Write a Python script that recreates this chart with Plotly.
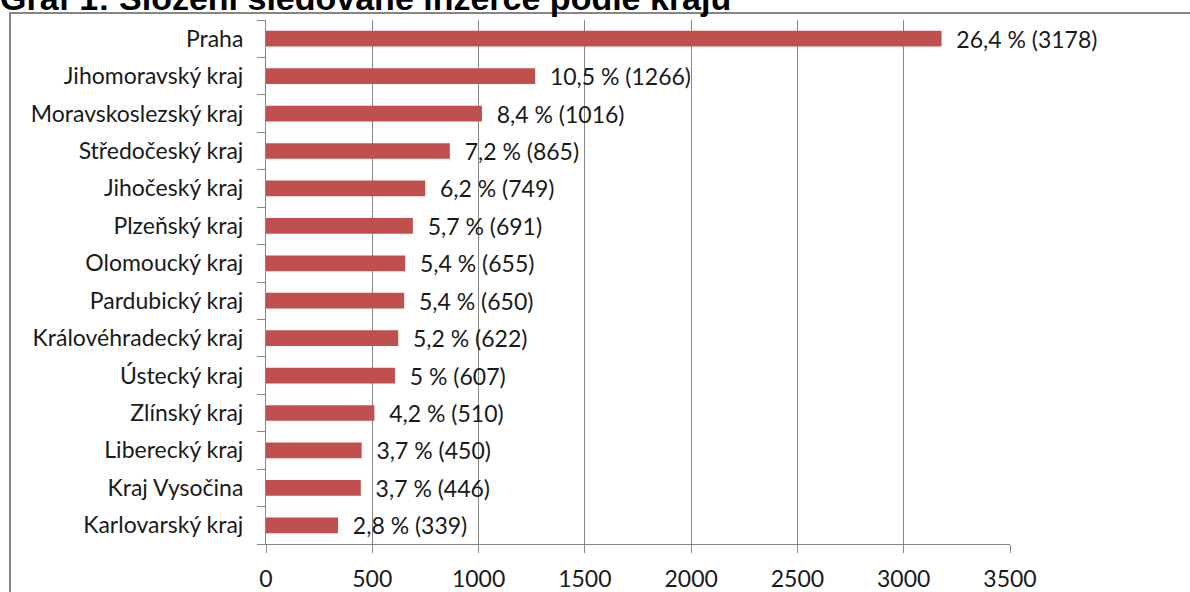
import plotly.graph_objects as go

# Regions ordered from largest to smallest share of listings
regions = [
    "Praha", "Jihomoravský kraj", "Moravskoslezský kraj", "Středočeský kraj",
    "Jihočeský kraj", "Plzeňský kraj", "Olomoucký kraj", "Pardubický kraj",
    "Královéhradecký kraj", "Ústecký kraj", "Zlínský kraj", "Liberecký kraj",
    "Kraj Vysočina", "Karlovarský kraj",
]
counts = [3178, 1266, 1016, 865, 749, 691, 655, 650, 622, 607, 510, 450, 446, 339]
shares = ["26,4", "10,5", "8,4", "7,2", "6,2", "5,7", "5,4", "5,4", "5,2", "5", "4,2", "3,7", "3,7", "2,8"]
x_ticks = [0, 500, 1000, 1500, 2000, 2500, 3000, 3500]

labels = [f"  {s} % ({c})" for s, c in zip(shares, counts)]

W, H = 1190, 592
L, R, T, B = 266, 180, 20, 48
pw, ph = W - L - R, H - T - B

font_main = "Lato, 'Open Sans', sans-serif"
grey = "#868686"
ink = "#1a1a1a"

fig = go.Figure(
    go.Bar(
        x=counts,
        y=regions,
        orientation="h",
        marker=dict(color="#C0504D", line=dict(width=0)),
        text=labels,
        textposition="outside",
        constraintext="none",
        cliponaxis=False,
        textfont=dict(family=font_main, size=23, color=ink),
        width=0.42,
    )
)

fig.update_layout(
    width=W,
    height=H,
    margin=dict(l=L, r=R, t=T, b=B, pad=0),
    paper_bgcolor="white",
    plot_bgcolor="white",
    showlegend=False,
    xaxis=dict(
        range=[0, 3500],
        tickvals=x_ticks,
        ticktext=[str(v) for v in x_ticks],
        showgrid=True,
        gridcolor=grey,
        gridwidth=1,
        showline=True,
        linecolor=grey,
        linewidth=1,
        ticks="outside",
        ticklen=8,
        tickcolor=grey,
        ticklabelstandoff=6,
        tickfont=dict(family=font_main, size=23, color=ink),
        zeroline=False,
        automargin=False,
        fixedrange=True,
    ),
    yaxis=dict(
        categoryorder="array",
        categoryarray=regions[::-1],
        showline=True,
        linecolor=grey,
        linewidth=1,
        ticks="outside",
        tickson="boundaries",
        ticklen=8,
        tickcolor=grey,
        ticklabelstandoff=17,
        tickfont=dict(family=font_main, size=23, color=ink),
        showgrid=False,
        automargin=False,
        fixedrange=True,
    ),
)

# Outer chart frame
fig.add_shape(
    type="rect",
    xref="paper", yref="paper",
    x0=(10 - L) / pw, x1=(W + 20 - L) / pw,
    y0=-(B + 20) / ph, y1=1 + (T - 13) / ph,
    line=dict(color=grey, width=2),
    fillcolor="rgba(0,0,0,0)",
    layer="below",
)

# Chart caption above the frame
fig.add_annotation(
    text="<b>Graf 1: Složení sledované inzerce podle kraju</b>",
    xref="paper", yref="paper",
    x=-L / pw, y=1 + (T - 19) / ph,
    xanchor="left", yanchor="bottom",
    xshift=-2,
    showarrow=False,
    font=dict(family="'Liberation Sans', Arial, sans-serif", size=34, color="black"),
)

fig.write_html("out.html")
